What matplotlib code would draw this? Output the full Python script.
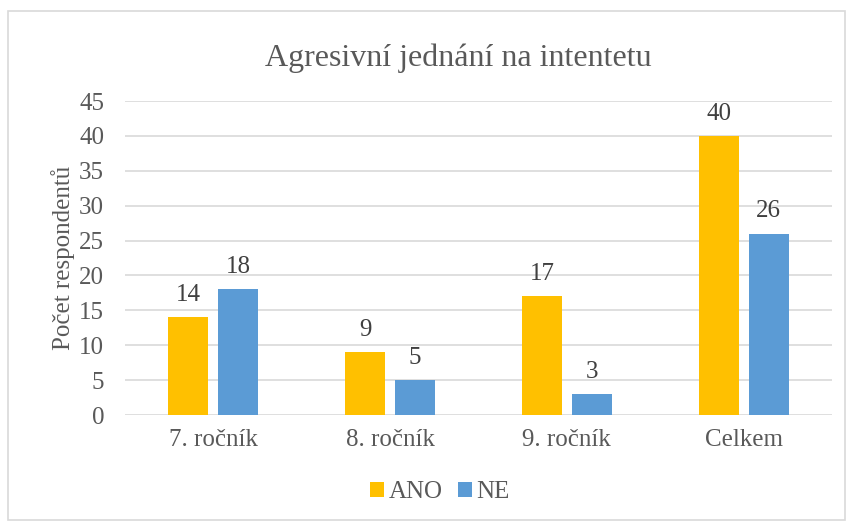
import numpy as np
import matplotlib.pyplot as plt
from matplotlib.patches import Rectangle

categories = ['7. ročník', '8. ročník', '9. ročník', 'Celkem']
ano = [14, 9, 17, 40]
ne = [18, 5, 3, 26]
yticks = list(range(0, 50, 5))

plt.rcParams['font.family'] = ['Liberation Serif', 'DejaVu Serif']
txt = '#595959'
grid = '#D9D9D9'

fig = plt.figure(figsize=(8.49, 5.24), dpi=100)
ax = fig.add_axes([125 / 849, 1 - 415 / 524, 707 / 849, 314 / 524])

x = np.arange(len(categories))
w = 0.226
off = 0.141
b1 = ax.bar(x - off, ano, w, color='#FFC000', label='ANO', zorder=3)
b2 = ax.bar(x + off, ne, w, color='#5B9BD5', label='NE', zorder=3)

for bars in (b1, b2):
    for r in bars:
        ax.annotate('%d' % r.get_height(), (r.get_x() + r.get_width() / 2, r.get_height()),
                    xytext=(0, 8), textcoords='offset points', ha='center', va='bottom',
                    fontsize=18, color='#404040')

ax.set_xlim(-0.5, len(categories) - 0.5)
ax.set_ylim(0, 45)
ax.set_yticks(yticks)
ax.set_xticks(x)
ax.set_xticklabels(categories)
ax.grid(axis='y', color=grid, linewidth=1.2, zorder=0)
for s in ax.spines.values():
    s.set_visible(False)
ax.tick_params(length=0, labelsize=18, labelcolor=txt)
ax.tick_params(axis='y', pad=15)
ax.tick_params(axis='x', pad=10)
ax.set_ylabel('Počet respondentů', fontsize=18, color=txt, labelpad=3)

fig.text(458 / 849, 1 - 58 / 524, 'Agresivní jednání na intentetu', ha='center', va='center',
         fontsize=23, color=txt)

fig.legend(handles=[b1, b2], loc='center', bbox_to_anchor=(440 / 849, 1 - 492 / 524), ncol=2,
           frameon=False, fontsize=18, labelcolor=txt, handlelength=0.55, handleheight=0.55,
           handletextpad=0.2, columnspacing=0.6)

fig.patches.append(Rectangle((8 / 849, 4 / 524), 837 / 849, 509 / 524, transform=fig.transFigure,
                             fill=False, edgecolor=grid, linewidth=1.2))

fig.savefig('out.png', dpi=100)
